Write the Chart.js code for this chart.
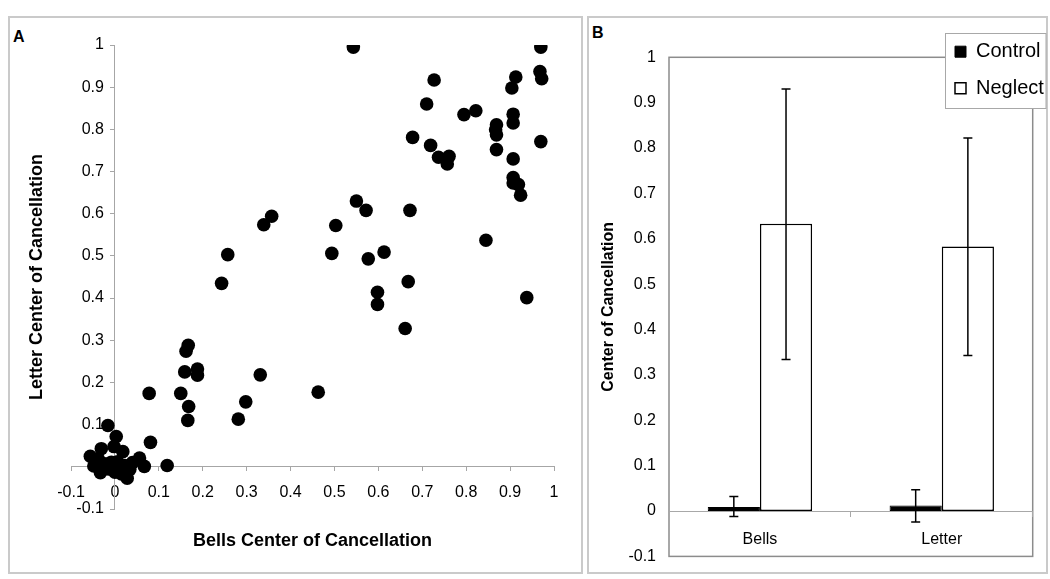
<!DOCTYPE html>
<html>
<head>
<meta charset="utf-8">
<title>Center of Cancellation</title>
<script src="https://cdn.jsdelivr.net/npm/chart.js@4.4.0/dist/chart.umd.min.js"></script>
<style>
    body { margin: 0; background: #fff; width: 1050px; height: 579px; position: relative; overflow: hidden; font-family: 'Liberation Sans', Arial, sans-serif; }
    .frame { position: absolute; border: 2px solid #cacaca; box-sizing: border-box; }
    .tag { position: absolute; font-weight: bold; font-size: 16px; line-height: 16px; color: #000; }
    .box { position: absolute; top: 0; }
</style>
</head>
<body>
<div class="frame" style="left:8px;top:16px;width:575px;height:558px"></div>
<div class="frame" style="left:587px;top:16px;width:461px;height:558px"></div>
<div class="tag" style="left:13px;top:29px">A</div>
<div class="tag" style="left:592px;top:25px">B</div>
<div class="box" style="left:0;width:588px;height:579px"><canvas id="scatterChart"></canvas></div>
<div class="box" style="left:590px;width:460px;height:579px"><canvas id="barChart"></canvas></div>

<script>
// Panel A: each patient's center of cancellation, bells test vs letter test
const bellsCenter = [
    0.543, 0.970, 0.968, 0.972, 0.913, 0.904, 0.727, 0.710, 0.795, 0.822,
    0.907, 0.907, 0.869, 0.867, 0.869, 0.869, 0.970, 0.678, 0.719, 0.737,
    0.761, 0.757, 0.907, 0.907, 0.907, 0.919, 0.924, 0.550, 0.572, 0.672,
    0.503, 0.494, 0.577, 0.613, 0.845, 0.668, 0.598, 0.598, 0.938, 0.661,
    0.463, 0.257, 0.339, 0.357, 0.243, 0.167, 0.162, 0.159, 0.188, 0.188,
    0.331, 0.150, 0.078, 0.168, 0.166, 0.298, 0.281, 0.081, 0.119,
    -0.016, 0.003, -0.002, 0.018, -0.031, -0.056, -0.048, -0.033, 0.056, 0.067,
    0.028, -0.008, -0.015, 0.011, 0.023, 0.034, 0.000, -0.038, -0.023, 0.015,
    0.006, 0.040
];
const letterCenter = [
    0.995, 0.995, 0.937, 0.920, 0.924, 0.898, 0.917, 0.860, 0.835, 0.844,
    0.836, 0.815, 0.811, 0.799, 0.787, 0.752, 0.771, 0.781, 0.762, 0.734,
    0.736, 0.718, 0.730, 0.686, 0.673, 0.669, 0.644, 0.630, 0.608, 0.608,
    0.572, 0.506, 0.493, 0.509, 0.537, 0.439, 0.414, 0.385, 0.401, 0.328,
    0.177, 0.503, 0.574, 0.594, 0.435, 0.288, 0.274, 0.225, 0.232, 0.217,
    0.218, 0.174, 0.174, 0.143, 0.110, 0.154, 0.113, 0.058, 0.003,
    0.098, 0.072, 0.048, 0.036, 0.043, 0.025, 0.002, -0.014, 0.021, 0.001,
    -0.027, 0.011, -0.005, -0.005, 0.003, -0.006, -0.013, 0.019, 0.007, -0.017,
    0.012, 0.010
];
const axisRange = [-0.1, 1];
const tickStep = 0.1;

// Panel B: group means with error bars
const groups = ['Bells', 'Letter'];
const controlMean = [0.009, 0.012];
const controlLow = [-0.012, -0.024];
const controlHigh = [0.032, 0.047];
const neglectMean = [0.633, 0.583];
const neglectLow = [0.334, 0.343];
const neglectHigh = [0.930, 0.822];

Chart.defaults.font.family = "'Liberation Sans', Arial, sans-serif";
Chart.defaults.color = '#000';

const axisGrey = '#a6a6a6';
const fmt = v => String(Math.round(v * 10) / 10);

new Chart(document.getElementById('scatterChart'), {
    type: 'scatter',
    data: {
        datasets: [{
            label: 'Patients',
            data: bellsCenter.map((x, i) => ({ x: x, y: letterCenter[i] })),
            pointRadius: 6.8,
            pointBorderWidth: 0,
            pointBackgroundColor: '#000',
            pointBorderColor: '#000'
        }]
    },
    options: {
        responsive: true,
        maintainAspectRatio: false,
        animation: false,
        events: [],
        layout: { padding: { left: 26, top: 45, right: 34, bottom: 27 } },
        plugins: {
            legend: { display: false },
            tooltip: { enabled: false }
        },
        scales: {
            x: {
                type: 'linear',
                position: { y: 0 },
                min: axisRange[0],
                max: axisRange[1],
                ticks: { stepSize: tickStep, autoSkip: false, font: { size: 16 }, padding: 12.5, callback: fmt },
                grid: { drawOnChartArea: false, tickLength: 4, color: axisGrey },
                border: { color: axisGrey }
            },
            y: {
                type: 'linear',
                position: { x: 0 },
                min: axisRange[0],
                max: axisRange[1],
                ticks: { stepSize: tickStep, display: false },
                grid: { drawOnChartArea: false, tickLength: 4, color: axisGrey },
                border: { color: axisGrey }
            },
            // tick labels sit a little left of the y axis line
            yLabels: {
                type: 'linear',
                axis: 'y',
                position: { x: -0.025 },
                min: axisRange[0],
                max: axisRange[1],
                ticks: {
                    stepSize: tickStep,
                    autoSkip: false,
                    font: { size: 16 },
                    callback: v => (Math.abs(v) < 1e-9 ? '' : fmt(v))
                },
                grid: { display: false, drawTicks: false },
                border: { display: false }
            },
            xTitle: {
                type: 'linear',
                axis: 'x',
                position: 'bottom',
                ticks: { display: false },
                grid: { display: false },
                border: { display: false },
                title: { display: true, text: 'Bells Center of Cancellation', font: { size: 18, weight: 'bold' }, padding: 0 },
                afterFit: scale => { scale.height = 43; }
            },
            yTitle: {
                type: 'linear',
                axis: 'y',
                position: 'left',
                ticks: { display: false },
                grid: { display: false },
                border: { display: false },
                title: { display: true, text: 'Letter Center of Cancellation', font: { size: 18, weight: 'bold' }, padding: 0 },
                afterFit: scale => { scale.width = 45; }
            }
        }
    }
});

// plot area frame + legend box for panel B
const plotFrame = {
    id: 'plotFrame',
    beforeDraw(chart) {
        const ctx = chart.ctx;
        const area = chart.chartArea;
        ctx.save();
        ctx.strokeStyle = '#8c8c8c';
        ctx.lineWidth = 1.5;
        ctx.strokeRect(area.left, area.top, area.right - area.left, area.bottom - area.top);
        ctx.fillStyle = '#fff';
        ctx.fillRect(355.5, 33.5, 100.5, 75);
        ctx.strokeStyle = '#a8a8a8';
        ctx.lineWidth = 1;
        ctx.strokeRect(355.5, 33.5, 100.5, 75);
        ctx.restore();

        // move the legend into the box
        const lg = chart.legend;
        lg.left = 348.4;
        lg.top = 25.1;
        lg.right = 460;
        lg.bottom = 130;
        lg.width = lg.right - lg.left;
        lg.height = lg.bottom - lg.top;
    }
};

const errorBars = {
    id: 'errorBars',
    afterDatasetsDraw(chart) {
        const ctx = chart.ctx;
        const yScale = chart.scales.y;
        const ranges = [[controlLow, controlHigh], [neglectLow, neglectHigh]];
        ctx.save();
        ctx.strokeStyle = '#000';
        ctx.lineWidth = 1.5;
        ranges.forEach(([lo, hi], i) => {
            chart.getDatasetMeta(i).data.forEach((bar, j) => {
                const x = bar.x;
                const yHi = yScale.getPixelForValue(hi[j]);
                const yLo = yScale.getPixelForValue(lo[j]);
                ctx.beginPath();
                ctx.moveTo(x, yHi);
                ctx.lineTo(x, yLo);
                ctx.moveTo(x - 4.5, yHi);
                ctx.lineTo(x + 4.5, yHi);
                ctx.moveTo(x - 4.5, yLo);
                ctx.lineTo(x + 4.5, yLo);
                ctx.stroke();
            });
        });
        ctx.restore();
    }
};

new Chart(document.getElementById('barChart'), {
    type: 'bar',
    data: {
        labels: groups,
        datasets: [
            { label: 'Control', data: controlMean, backgroundColor: '#000', borderColor: '#000', borderWidth: 1, borderSkipped: false },
            { label: 'Neglect', data: neglectMean, backgroundColor: '#fff', borderColor: '#000', borderWidth: 1.5, borderSkipped: false }
        ]
    },
    options: {
        responsive: true,
        maintainAspectRatio: false,
        animation: false,
        events: [],
        datasets: { bar: { categoryPercentage: 0.574, barPercentage: 1 } },
        layout: { padding: { left: 9, top: 57.3, right: 17.3, bottom: 21 } },
        plugins: {
            legend: {
                position: 'chartArea',
                align: 'start',
                labels: { boxWidth: 11, boxHeight: 11, padding: 16.6, color: '#000', font: { size: 20 } }
            },
            tooltip: { enabled: false }
        },
        scales: {
            x: {
                position: { y: 0 },
                ticks: { font: { size: 16 }, padding: 14 },
                grid: { drawOnChartArea: false, tickLength: 5, color: '#a8a8a8' },
                border: { color: '#a8a8a8' }
            },
            y: {
                position: 'left',
                min: axisRange[0],
                max: axisRange[1],
                ticks: { stepSize: tickStep, font: { size: 16 }, padding: 13, callback: fmt },
                grid: { display: false, drawTicks: false },
                border: { display: false },
                title: { display: true, text: 'Center of Cancellation', font: { size: 16, weight: 'bold' }, padding: 0 },
                afterFit: scale => { scale.width = 70; }
            }
        }
    },
    plugins: [plotFrame, errorBars]
});
</script>
</body>
</html>
